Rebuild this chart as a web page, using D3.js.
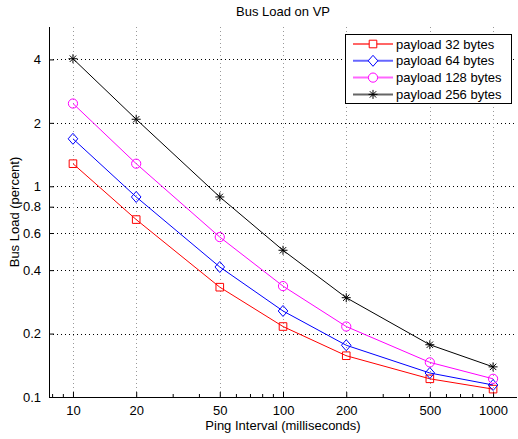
<!DOCTYPE html>
<html>
<head>
<meta charset="utf-8">
<script src="https://cdn.jsdelivr.net/npm/d3@7"></script>
<style>
  body { margin: 0; background: #fff; }
  text { font-family: "Liberation Sans", Arial, Helvetica, sans-serif; }
</style>
</head>
<body>
<svg id="chart" width="518" height="439"></svg>
<script>
// ping interval in ms
var intervals = [10, 20, 50, 100, 200, 500, 1000];

// bus load (percent) for each payload size
var load32  = [1.28, 0.695, 0.332, 0.216, 0.157, 0.122, 0.109];
var load64  = [1.68, 0.89, 0.414, 0.256, 0.176, 0.130, 0.114];
var load128 = [2.47, 1.28, 0.574, 0.336, 0.216, 0.146, 0.122];
var load256 = [4.03, 2.08, 0.89, 0.497, 0.296, 0.177, 0.139];

var seriesNames = ["payload 32 bytes", "payload 64 bytes", "payload 128 bytes", "payload 256 bytes"];
var xTicks = [10, 20, 50, 100, 200, 500, 1000];
var yTicks = [0.1, 0.2, 0.4, 0.6, 0.8, 1, 2, 4];

var series = [
  {name: seriesNames[0], values: load32,  color: "#ff0000", marker: "square"},
  {name: seriesNames[1], values: load64,  color: "#0000ff", marker: "diamond"},
  {name: seriesNames[2], values: load128, color: "#ff00ff", marker: "circle"},
  {name: seriesNames[3], values: load256, color: "#000000", marker: "star"}
];

var margin = {top: 27, right: 1, bottom: 42, left: 49},
    width = 518 - margin.left - margin.right,
    height = 439 - margin.top - margin.bottom;

var svg = d3.select("#chart");
var g = svg.append("g")
    .attr("transform", "translate(" + margin.left + "," + margin.top + ")");

var x = d3.scaleLog().domain([7.69, 1300]).range([0, width]);
var y = d3.scaleLog().domain([0.1, 5.7]).range([height, 0]);

// marker shapes, MATLAB style
function markerPath(type) {
  if (type == "square") return "M-3.8,-3.8H3.8V3.8H-3.8Z";
  if (type == "diamond") return "M0,-5.5L4.8,0L0,5.5L-4.8,0Z";
  if (type == "circle") return "M4.6,0A4.6,4.6 0 1,1 -4.6,0A4.6,4.6 0 1,1 4.6,0Z";
  // asterisk
  return "M-4.5,0H4.5M0,-4.5V4.5M-3.2,-3.2L3.2,3.2M-3.2,3.2L3.2,-3.2";
}

// grid lines
g.selectAll(".hgrid")
  .data(yTicks.filter(function(d) { return d > 0.1; }))
  .enter().append("line")
    .attr("x1", 0).attr("x2", width)
    .attr("y1", function(d) { return Math.round(y(d)) + 0.5; })
    .attr("y2", function(d) { return Math.round(y(d)) + 0.5; })
    .attr("stroke", "#000")
    .attr("stroke-dasharray", "1,3");

g.selectAll(".vgrid")
  .data(xTicks)
  .enter().append("line")
    .attr("x1", function(d) { return Math.round(x(d)) + 0.5; })
    .attr("x2", function(d) { return Math.round(x(d)) + 0.5; })
    .attr("y1", 0).attr("y2", height)
    .attr("stroke", "#999")
    .attr("stroke-dasharray", "1,3");

// axes
var xAxis = g.append("g")
    .attr("transform", "translate(0," + height + ")")
    .call(d3.axisBottom(x).tickValues(xTicks).tickFormat(d3.format("d")).tickSize(-5).tickPadding(9));
var xMinor = [];
[1, 10, 100, 1000].forEach(function(dec) {
  for (var k = 1; k < 10; k++) {
    var v = dec * k;
    if (v >= 7.69 && v <= 1300 && xTicks.indexOf(v) < 0) xMinor.push(v);
  }
});
xAxis.selectAll(".minor")
  .data(xMinor)
  .enter().append("line")
    .attr("x1", function(d) { return x(d); })
    .attr("x2", function(d) { return x(d); })
    .attr("y1", 0).attr("y2", -3)
    .attr("stroke", "#000");

var yAxis = g.append("g")
    .call(d3.axisLeft(y).tickValues(yTicks).tickFormat(function(d) { return d; }).tickSize(-5).tickPadding(8));

[xAxis, yAxis].forEach(function(a) {
  a.select(".domain").attr("stroke", "#000").attr("d", null);
  a.selectAll("text").style("font-size", "13px").attr("fill", "#000");
});
xAxis.select(".domain").attr("d", "M0,0.5H" + width);
yAxis.select(".domain").attr("d", "M0.5,0V" + height);

// lines and markers
var line = d3.line()
    .x(function(d, i) { return x(intervals[i]); })
    .y(function(d) { return y(d); });

series.forEach(function(s) {
  g.append("path")
    .attr("d", line(s.values))
    .attr("fill", "none")
    .attr("stroke", s.color)
    .attr("stroke-width", 1);

  g.selectAll(".pt")
    .data(s.values)
    .enter().append("path")
      .attr("transform", function(d, i) { return "translate(" + x(intervals[i]) + "," + y(d) + ")"; })
      .attr("d", markerPath(s.marker))
      .attr("fill", "none")
      .attr("stroke", s.color)
      .attr("stroke-width", 1);
});

// title and labels
svg.append("text")
    .attr("x", margin.left + width / 2)
    .attr("y", 16)
    .attr("text-anchor", "middle")
    .style("font-size", "13px")
    .text("Bus Load on VP");

svg.append("text")
    .attr("x", margin.left + width / 2)
    .attr("y", 430)
    .attr("text-anchor", "middle")
    .style("font-size", "13px")
    .text("Ping Interval (milliseconds)");

svg.append("text")
    .attr("transform", "rotate(-90)")
    .attr("x", -(margin.top + height / 2))
    .attr("y", 19)
    .attr("text-anchor", "middle")
    .style("font-size", "13px")
    .text("Bus Load (percent)");

// legend
var legend = svg.append("g").attr("transform", "translate(345,34)");
legend.append("rect")
    .attr("x", 0.5).attr("y", 0.5)
    .attr("width", 166).attr("height", 69)
    .attr("fill", "#fff")
    .attr("stroke", "#000");

series.forEach(function(s, i) {
  var row = legend.append("g").attr("transform", "translate(0," + (10 + i * 16.8) + ")");
  row.append("line")
    .attr("x1", 8).attr("x2", 48)
    .attr("stroke", s.color)
    .attr("stroke-width", 2)
    .attr("stroke-opacity", 0.6);
  row.append("path")
    .attr("transform", "translate(28,0)")
    .attr("d", markerPath(s.marker))
    .attr("fill", "#fff")
    .attr("fill-opacity", s.marker == "star" ? 0 : 1)
    .attr("stroke", s.color);
  row.append("text")
    .attr("x", 51)
    .attr("y", 4.5)
    .style("font-size", "13px")
    .text(s.name);
});
</script>
</body>
</html>
